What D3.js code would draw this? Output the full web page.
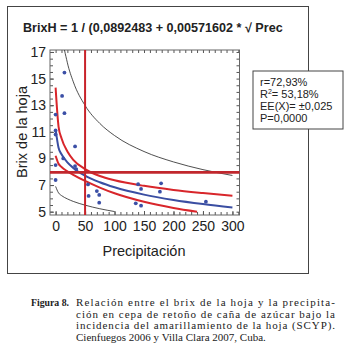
<!DOCTYPE html>
<html>
<head>
<meta charset="utf-8">
<script src="https://cdn.jsdelivr.net/npm/d3@7"></script>
<style>
  body { margin: 0; background: #fff; }
  svg { display: block; font-family: "Liberation Sans", Arial, sans-serif; }
</style>
</head>
<body>
<svg width="354" height="361"></svg>
<script>
// observed points: precipitacion vs brix de la hoja
const precipPts = [15, 11, 15, 0, 0, 0, 33, 0, 13, 33, 35, 0, 55, 56, 70, 74, 74, 140, 145, 179, 177, 136, 145, 255];
const brixPts = [15.45, 13.7, 12.4, 12.3, 11.1, 10.8, 9.9, 8.5, 9.0, 8.43, 8.2, 7.38, 7.05, 6.18, 6.55, 6.26, 5.68, 7.06, 6.71, 7.13, 6.5, 5.63, 5.45, 5.75];

// fitted line and bands
const fitX = [0, 5, 10, 20, 30, 50, 75, 100, 150, 200, 250, 300];
const fitY = [11.2, 9.8, 9.32, 8.71, 8.29, 7.71, 7.21, 6.83, 6.28, 5.88, 5.57, 5.31];
const confHiY = [14.32, 11.4, 10.52, 9.52, 8.9, 8.2, 7.68, 7.36, 6.94, 6.63, 6.4, 6.2];
const confLoX = [0, 5, 10, 20, 30, 50, 75, 100, 150, 200, 240];
const confLoY = [9.2, 8.6, 8.36, 8.03, 7.77, 7.31, 6.81, 6.38, 5.74, 5.28, 5.0];
const predHiX = [5, 10, 20, 30, 50, 75, 100, 150, 200, 250, 300];
const predHiY = [20.85, 18.61, 16.19, 14.76, 12.98, 11.63, 10.72, 9.52, 8.74, 8.16, 7.72];
const predLoX = [0, 5, 10, 20, 30, 50, 75, 100];
const predLoY = [6.9, 6.41, 6.21, 5.96, 5.77, 5.49, 5.22, 5.01];

// reference lines
const refPrecip = 50;
const refBrix = 7.95;

const xTicks = [0, 50, 100, 150, 200, 250, 300];
const yTicks = [5, 7, 9, 11, 13, 15, 17];

const titleText = "BrixH = 1 / (0,0892483 + 0,00571602 * \u221A Prec";
const statLines = ["r=72,93%", "R2= 53,18%", "EE(X)= \u00B10,025", "P=0,0000"];
const captionLines = [
  "Relación entre el brix de la hoja y la precipita-",
  "ción en cepa de retoño de caña de azúcar bajo la",
  "incidencia del amarillamiento de la hoja (SCYP).",
  "Cienfuegos 2006 y Villa Clara 2007, Cuba."
];

const svg = d3.select("svg");
const pLeft = 50, pRight = 239.5, pTop = 50, pBottom = 215;

let xScale = d3.scaleLinear().domain([-9.5, 312]).range([pLeft, pRight]);
let yScale = d3.scaleLinear().domain([4.75, 17.15]).range([pBottom, pTop]);

// outer frame
svg.append("rect")
  .attr("x", 7.5).attr("y", 6.5).attr("width", 301).attr("height", 267)
  .attr("fill", "none").attr("stroke", "#444").attr("stroke-width", 1);

svg.append("text")
  .attr("x", 23).attr("y", 32)
  .attr("font-size", 12.6).attr("font-weight", "bold").attr("fill", "#222")
  .text(titleText);

svg.append("defs").append("clipPath").attr("id", "plotclip")
  .append("rect").attr("x", pLeft).attr("y", pTop)
  .attr("width", pRight - pLeft).attr("height", pBottom - pTop);

// minor ticks
const minorX = d3.range(0, 311, 10);
const minorY = d3.range(5, 17.1, 0.5);

function axisStyle(g) {
  g.select(".domain").remove();
  g.selectAll("line").attr("stroke", "#555");
  g.selectAll("text").attr("font-size", 14).attr("fill", "#222")
    .attr("font-family", "Liberation Sans, Arial, sans-serif");
}

svg.append("g").attr("transform", `translate(0,${pBottom})`)
  .call(d3.axisBottom(xScale).tickValues(minorX).tickSize(-3).tickFormat(""))
  .call(axisStyle);
svg.append("g").attr("transform", `translate(0,${pBottom})`)
  .call(d3.axisBottom(xScale).tickValues(xTicks).tickSize(-4).tickPadding(6))
  .call(axisStyle);
svg.append("g").attr("transform", `translate(0,${pTop})`)
  .call(d3.axisTop(xScale).tickValues(minorX).tickSize(-3).tickFormat(""))
  .call(axisStyle);

svg.append("g").attr("transform", `translate(${pLeft},0)`)
  .call(d3.axisLeft(yScale).tickValues(minorY).tickSize(-3).tickFormat(""))
  .call(axisStyle);
svg.append("g").attr("transform", `translate(${pLeft},0)`)
  .call(d3.axisLeft(yScale).tickValues(yTicks).tickSize(-4).tickPadding(4))
  .call(axisStyle);
svg.append("g").attr("transform", `translate(${pRight},0)`)
  .call(d3.axisRight(yScale).tickValues(minorY).tickSize(-3).tickFormat(""))
  .call(axisStyle);

svg.append("rect")
  .attr("x", pLeft).attr("y", pTop).attr("width", pRight - pLeft).attr("height", pBottom - pTop)
  .attr("fill", "none").attr("stroke", "#666").attr("stroke-width", 1);

const plot = svg.append("g").attr("clip-path", "url(#plotclip)");

function drawCurve(xs, ys, color, width) {
  const line = d3.line()
    .x(d => xScale(d[0])).y(d => yScale(d[1]))
    .curve(d3.curveMonotoneX);
  plot.append("path")
    .datum(d3.zip(xs, ys))
    .attr("d", line)
    .attr("fill", "none").attr("stroke", color).attr("stroke-width", width);
}

drawCurve(predHiX, predHiY, "#222", 0.8);
drawCurve(predLoX, predLoY, "#222", 0.8);
drawCurve(fitX, confHiY, "#d8262b", 2);
drawCurve(confLoX, confLoY, "#d8262b", 2);
drawCurve(fitX, fitY, "#3a4ea2", 2);

plot.selectAll("circle.pt")
  .data(d3.zip(precipPts, brixPts))
  .join("circle")
  .attr("class", "pt")
  .attr("cx", d => xScale(d[0]))
  .attr("cy", d => yScale(d[1]))
  .attr("r", 1.9)
  .attr("fill", "#3b4fa6");

// reference crosshair
svg.append("line")
  .attr("x1", xScale(refPrecip)).attr("x2", xScale(refPrecip))
  .attr("y1", pTop).attr("y2", pBottom)
  .attr("stroke", "#c8232a").attr("stroke-width", 2);
svg.append("line")
  .attr("x1", pLeft).attr("x2", pRight)
  .attr("y1", yScale(refBrix)).attr("y2", yScale(refBrix))
  .attr("stroke", "#c1272d").attr("stroke-width", 2.6);

// axis titles
svg.append("text")
  .attr("transform", "translate(27,132) rotate(-90)")
  .attr("text-anchor", "middle")
  .attr("font-size", 14.5).attr("fill", "#222")
  .text("Brix de la hoja");

svg.append("text")
  .attr("x", 144).attr("y", 256)
  .attr("text-anchor", "middle")
  .attr("font-size", 14.5).attr("fill", "#222")
  .text("Precipitación");

// stats box
svg.append("rect")
  .attr("x", 253).attr("y", 71).attr("width", 90).attr("height", 58)
  .attr("fill", "#fff").attr("stroke", "#444").attr("stroke-width", 1);

let stats = svg.append("g").attr("font-size", 11).attr("fill", "#222");
statLines.forEach((s, i) => {
  let t = stats.append("text").attr("x", 260).attr("y", 85.5 + i * 12.3);
  if (s.startsWith("R2")) {
    t.append("tspan").text("R");
    t.append("tspan").attr("font-size", 7).attr("dy", -4).text("2");
    t.append("tspan").attr("dy", 4).text(s.slice(2));
  } else {
    t.text(s);
  }
});

// caption
const cap = svg.append("g")
  .attr("font-family", "Liberation Serif, 'Times New Roman', serif")
  .attr("font-size", 11).attr("fill", "#222");
cap.append("text").attr("x", 31).attr("y", 306)
  .attr("font-weight", "bold")
  .attr("textLength", 38).attr("lengthAdjust", "spacingAndGlyphs")
  .text("Figura 8.");
captionLines.forEach((s, i) => {
  let t = cap.append("text").attr("x", 76).attr("y", 306 + i * 11.7).text(s);
  if (i < captionLines.length - 1) {
    t.attr("textLength", 259).attr("lengthAdjust", "spacing");
  }
});
</script>
</body>
</html>
